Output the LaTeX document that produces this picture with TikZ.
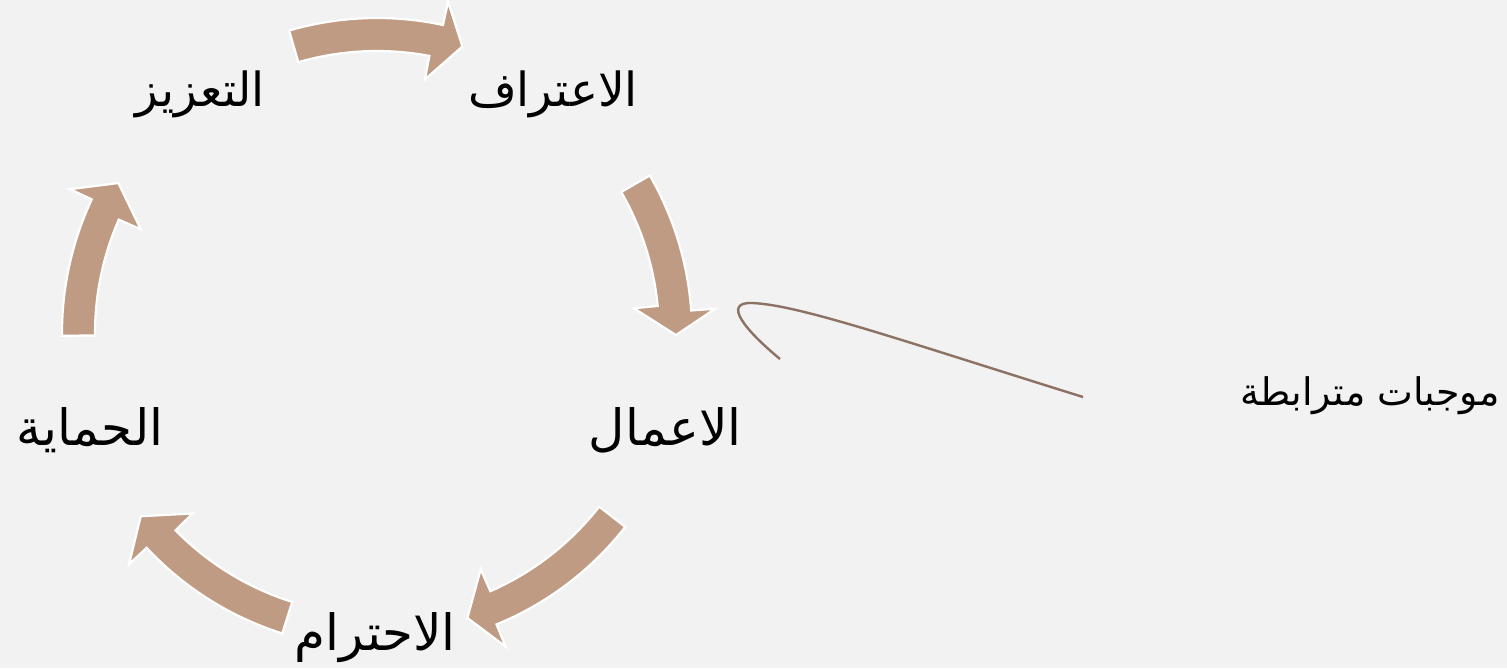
\documentclass[tikz,border=0pt]{standalone}
\usepackage{fontspec}
\TeXXeTstate=1
\newfontfamily\arabicfont[Script=Arabic]{DejaVu Sans}
\definecolor{bgc}{HTML}{F2F2F2}
\definecolor{arrowc}{HTML}{C09B84}
\definecolor{linec}{HTML}{8B7262}
\tikzset{
  lbl/.style={font=\arabicfont\fontsize{25}{30}\selectfont, text=black, inner sep=0pt},
  lblnarrow/.style={font=\arabicfont\fontsize{23.5}{28}\selectfont, text=black, inner sep=0pt},
  lblsmall/.style={font=\arabicfont\fontsize{19}{24}\selectfont, text=black, inner sep=0pt},
  cyclearrow/.style={fill=arrowc, draw=white, line width=1.1pt, line join=miter},
  callout/.style={draw=linec, line width=1.2pt}
}
\newcommand{\cyclearr}[4]{%
  % #1 start, #2 inner barb angle, #3 outer barb angle, #4 tip angle
  \draw[cyclearrow]
    plot[domain=#1:#3, samples=25] ({377+315*cos(\x)},{333+315*sin(\x)})
    -- ({377+339*cos(#3)},{333+339*sin(#3)})
    -- ({377+299*cos(#4)},{333+299*sin(#4)})
    -- ({377+258*cos(#2)},{333+258*sin(#2)})
    -- plot[domain=#2:#1, samples=25] ({377+282*cos(\x)},{333+282*sin(\x)})
    -- cycle;}
\begin{document}
\begin{tikzpicture}[x=0.5pt,y=-0.5pt]
\fill[bgc] (0,0) rectangle (1507,668);
\useasboundingbox (0,0) rectangle (1507,668);
\cyclearr{-106.2}{-79.3}{-77.9}{-73.4}
\cyclearr{-30}{-5.5}{-4.1}{0.4}
\cyclearr{38}{66.3}{67.7}{72.4}
\cyclearr{107.5}{135.6}{137.0}{142.2}
\cyclearr{179.5}{203.7}{205.1}{210.1}
\node[lblnarrow] (recog) at (553,94) {\beginR الاعتراف\endR};
\node[lbl] (work) at (665,430) {\beginR الاعمال\endR};
\node[lbl] (respect) at (375,638) {\beginR الاحترام\endR};
\node[lbl] (protect) at (90,430) {\beginR الحماية\endR};
\node[lblnarrow] (boost) at (200,94) {\beginR التعزيز\endR};
\node[lblsmall] (pos) at (1370,396) {\beginR موجبات مترابطة\endR};
\coordinate (cstart) at (780,359);
\coordinate (cend) at (1083,397);
\draw[callout] (cstart) .. controls (745,330) and (722,302) .. (752,303)
  .. controls (800,305) and (900,340) .. (cend);
\end{tikzpicture}
\end{document}
